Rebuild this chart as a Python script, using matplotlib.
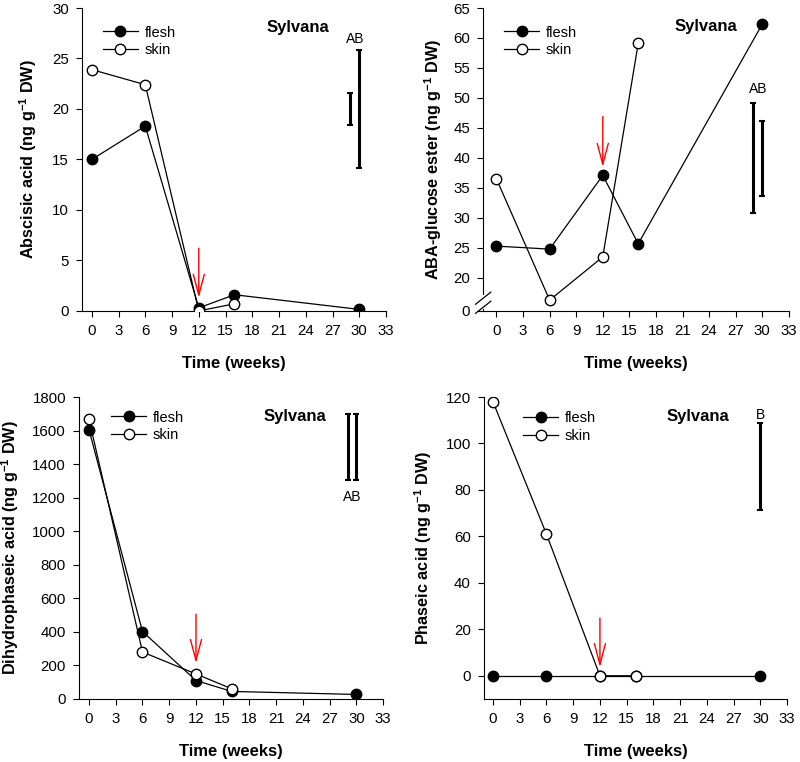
import numpy as np
import matplotlib.pyplot as plt

plt.rcParams['font.family'] = ['Liberation Sans', 'DejaVu Sans']
plt.rcParams['font.size'] = 10
plt.rcParams['mathtext.fontset'] = 'custom'
plt.rcParams['mathtext.bf'] = 'Liberation Sans:bold'
plt.rcParams['mathtext.rm'] = 'Liberation Sans:bold'

weeks = [0, 6, 12, 16, 30]
weeks_skin = [0, 6, 12, 16]

# Abscisic acid
aba_flesh = [15.0, 18.3, 0.3, 1.6, 0.15]
aba_skin = [23.9, 22.4, 0.0, 0.7]
# ABA-glucose ester
abage_flesh = [25.3, 24.8, 37.1, 25.7, 62.3]
abage_skin = [36.5, 16.3, 23.5, 59.1]
# Dihydrophaseic acid
dpa_flesh = [1605, 402, 110, 45, 27]
dpa_skin = [1667, 280, 149, 61]
# Phaseic acid
pa_flesh = [0, 0, 0, 0, 0]
pa_skin = [118, 61, 0, 0]

# LSD bars: (x, low, high)
aba_bars = [(29, 18.4, 21.6), (30, 14.2, 25.8)]
abage_bars = [(29, 30.8, 49.2), (30, 33.7, 46.2)]
dpa_bars = [(29, 1305, 1701), (30, 1305, 1701)]
pa_bars = [(30, 71.3, 108.8)]

fig = plt.figure(figsize=(8, 7.62), dpi=100)

positions = [
    [0.1025, 0.592, 0.38, 0.3975],
    [0.604, 0.592, 0.382, 0.3975],
    [0.099, 0.0827, 0.38, 0.3963],
    [0.605, 0.0827, 0.379, 0.3963],
]

def setup(ax, xlo):
    ax.spines['top'].set_visible(False)
    ax.spines['right'].set_visible(False)
    ax.set_xlim(xlo, 33)
    ax.set_xticks(np.arange(0, 34, 3))
    ax.tick_params(direction='out', length=4, labelsize=10.8, pad=5.5)
    ax.set_xlabel('Time (weeks)', fontsize=12, fontweight='bold', labelpad=13)

def draw(ax, flesh, skin, lx, ly):
    ax.plot(weeks, flesh, '-o', color='black', mfc='black', mec='black',
            ms=7.5, lw=0.9, label='flesh', zorder=3)
    ax.plot(weeks_skin, skin, '-o', color='black', mfc='white', mec='black',
            ms=7.5, lw=0.9, label='skin', zorder=4)
    ax.legend(loc='upper left', bbox_to_anchor=(lx, ly), frameon=False,
              fontsize=10.5, handlelength=2.4, handletextpad=0.45,
              labelspacing=0.25, borderpad=0, borderaxespad=0)

def bars(ax, data):
    for x, lo, hi in data:
        ax.errorbar([x], [(lo + hi) / 2], yerr=[[(hi - lo) / 2]], fmt='none',
                    ecolor='black', elinewidth=2.2, capsize=2, capthick=1.5)

def arrow(ax, ytop, ybot):
    ax.annotate('', xy=(12, ybot), xytext=(12, ytop),
                arrowprops=dict(arrowstyle='->, head_length=1.5, head_width=0.4',
                                color='red', lw=1.0, mutation_scale=10,
                                shrinkA=0, shrinkB=0))

def ylab(ax, name, xc):
    ax.set_ylabel(name + ' (ng g$^{-1}$ DW)', fontsize=11.7, fontweight='bold')
    ax.yaxis.set_label_coords(xc, 0.5)

def sylvana(ax, x, y):
    ax.text(x, y, 'Sylvana', transform=ax.transAxes, ha='center',
            va='center', fontsize=12, fontweight='bold')

# (a) Abscisic acid
ax1 = fig.add_axes(positions[0])
draw(ax1, aba_flesh, aba_skin, 0.069, 0.942)
bars(ax1, aba_bars)
arrow(ax1, 6.2, 1.3)
ax1.set_ylim(0, 30)
ax1.set_yticks(np.arange(0, 31, 5))
setup(ax1, -1.1)
ylab(ax1, 'Abscisic acid', -0.14)
ax1.text(29.5, 26.9, 'AB', ha='center', va='center', fontsize=10)
sylvana(ax1, 0.71, 0.934)

# (b) ABA-glucose ester, broken axis
ax2 = fig.add_axes(positions[1])
draw(ax2, abage_flesh, abage_skin, 0.069, 0.942)
bars(ax2, abage_bars)
arrow(ax2, 46.9, 38.5)
ax2.set_ylim(14.5, 65)
yt = [14.5] + list(range(20, 66, 5))
ax2.set_yticks(yt)
ax2.set_yticklabels(['0'] + [str(v) for v in range(20, 66, 5)])
setup(ax2, -1.5)
ylab(ax2, 'ABA-glucose ester', -0.128)
ax2.text(29.5, 51.5, 'AB', ha='center', va='center', fontsize=10)
sylvana(ax2, 0.73, 0.938)
# break marks on the y axis
ax2.plot([0, 0], [0.012, 0.045], transform=ax2.transAxes, color='white',
         lw=3, clip_on=False, zorder=5)
for yb in (0.012, 0.042):
    ax2.plot([-0.025, 0.025], [yb - 0.02, yb + 0.02], transform=ax2.transAxes,
             color='black', lw=0.9, clip_on=False, zorder=6)

# (c) Dihydrophaseic acid
ax3 = fig.add_axes(positions[2])
draw(ax3, dpa_flesh, dpa_skin, 0.105, 0.955)
bars(ax3, dpa_bars)
arrow(ax3, 505, 214)
ax3.set_ylim(0, 1800)
ax3.set_yticks(np.arange(0, 1801, 200))
setup(ax3, -1.1)
ylab(ax3, 'Dihydrophaseic acid', -0.192)
ax3.text(29.5, 1205, 'AB', ha='center', va='center', fontsize=10)
sylvana(ax3, 0.71, 0.937)

# (d) Phaseic acid
ax4 = fig.add_axes(positions[3])
draw(ax4, pa_flesh, pa_skin, 0.129, 0.952)
bars(ax4, pa_bars)
arrow(ax4, 24.8, 3.7)
ax4.set_ylim(-10, 120)
ax4.set_yticks(np.arange(0, 121, 20))
setup(ax4, -1.0)
ylab(ax4, 'Phaseic acid', -0.165)
ax4.text(30, 112.4, 'B', ha='center', va='center', fontsize=10)
sylvana(ax4, 0.706, 0.935)

fig.savefig('out.png', dpi=100)
